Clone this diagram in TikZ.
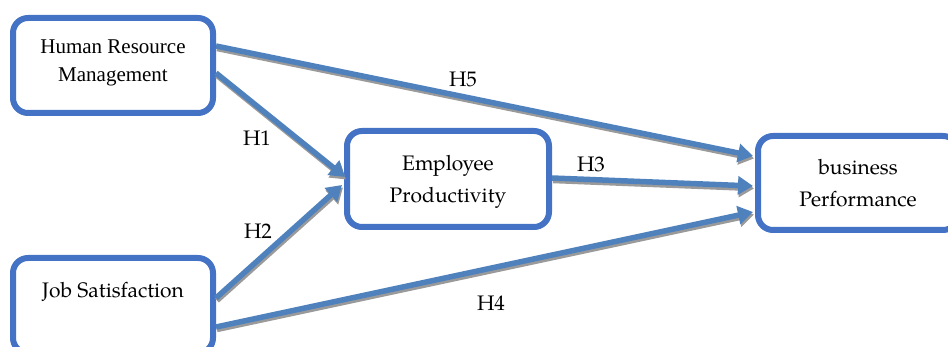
\documentclass[tikz,border=0pt]{standalone}
\usepackage{fontspec}
\setmainfont{TeX Gyre Pagella}
\newfontfamily\timesfont{Liberation Serif}
\usetikzlibrary{arrows.meta}
\definecolor{boxblue}{HTML}{4472C4}
\definecolor{arrowblue}{HTML}{4F81BD}
\definecolor{shadowgray}{HTML}{9A9A9A}
% thick arrow with a grey drop shadow underneath
\newcommand\hyparrow[2]{%
  \draw[link, shadowgray, transform canvas={xshift=1pt,yshift=-2.5pt}] #1 -- #2;
  \draw[link, arrowblue] #1 -- #2;}
\begin{document}
\begin{tikzpicture}[x=1pt,y=-1pt,
  box/.style={draw=boxblue, line width=6pt, rounded corners=15pt, fill=white,
    align=center, inner sep=0pt, minimum width=200pt, minimum height=95pt,
    font=\fontsize{21}{32}\selectfont},
  hyp/.style={font=\fontsize{21}{25}\selectfont, inner sep=0pt},
  link/.style={line width=5.5pt, -{Triangle[length=15pt,width=18pt]}},
]
\useasboundingbox (0,0) rectangle (948,347);

% constructs
\node[box, text depth=9pt, font=\timesfont\fontsize{21}{28}\selectfont] (hrm) at (113,65.5) {Human Resource\\Management};
\node[box, text depth=0pt, minimum width=202pt, minimum height=96pt] (emp) at (448,179) {Employee\\Productivity};
\node[box, text depth=0pt, minimum height=94pt] (bp) at (858,183) {business\\Performance};
\node[box, text depth=0pt] (js) at (113,305.5) {Job Satisfaction\\\mbox{}};

% hypothesised paths
\hyparrow{([yshift=19.5pt]hrm.east)}{([xshift=-2pt,yshift=27pt]bp.west)}
\hyparrow{([yshift=-7.5pt]hrm.east)}{([xshift=1pt,yshift=2pt]emp.west)}
\hyparrow{([yshift=7.5pt]js.east)}{([xshift=-2pt,yshift=-6pt]emp.west)}
\hyparrow{([yshift=1pt]emp.east)}{([xshift=-2pt,yshift=-3pt]bp.west)}
\hyparrow{([yshift=-21.5pt]js.east)}{([xshift=-2pt,yshift=-29pt]bp.west)}

% labels
\node[hyp] (h5) at (463,79) {H5};
\node[hyp] (h1) at (257,138) {H1};
\node[hyp] (h2) at (258,231) {H2};
\node[hyp] (h3) at (591,164) {H3};
\node[hyp] (h4) at (491,303) {H4};
\end{tikzpicture}
\end{document}
